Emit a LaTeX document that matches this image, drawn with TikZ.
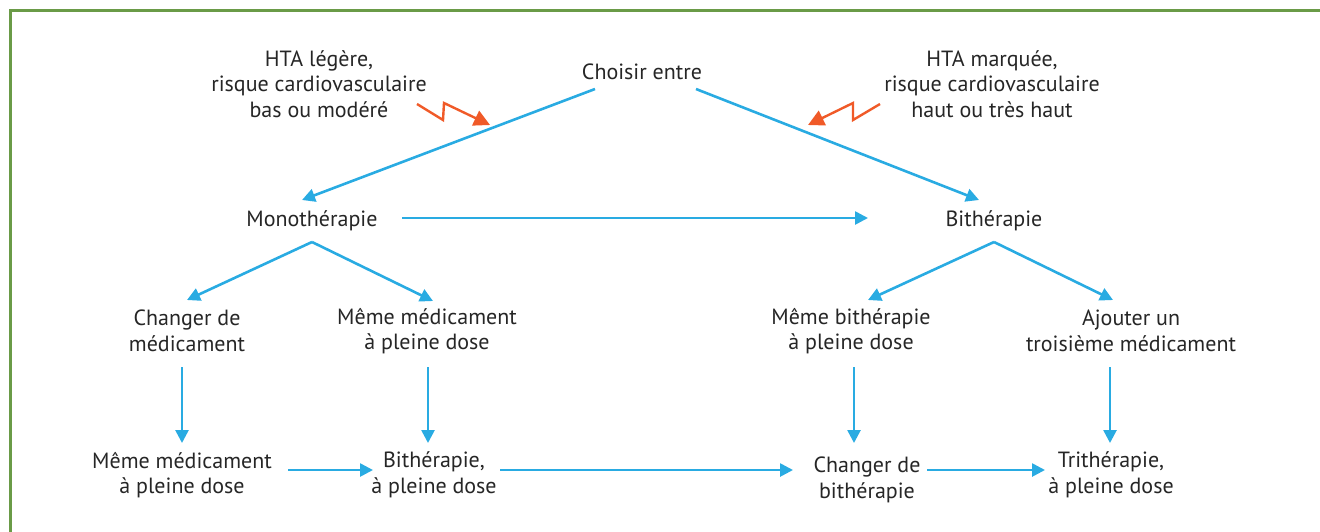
\documentclass[tikz,border=0pt]{standalone}
\usepackage{fontspec}
\setmainfont{PT Sans}
\usetikzlibrary{arrows.meta, calc}
\definecolor{framegreen}{HTML}{6A9B47}
\definecolor{flowblue}{HTML}{29ABE2}
\definecolor{flashred}{HTML}{F05A28}
\tikzset{
    every node/.style={font=\fontsize{11}{12.8}\selectfont, text=black!85, align=center, inner sep=0pt},
    flow/.style={draw=flowblue, line width=1.3pt, -{Triangle[length=6.5pt,width=6.5pt]}},
    flash/.style={draw=flashred, line width=1.2pt, line join=miter, -{Triangle[length=8pt,width=8pt]}},
}

\begin{document}
\begin{tikzpicture}[x=0.5pt, y=-0.5pt]

\useasboundingbox (0,0) rectangle (1320,531);
\draw[framegreen, line width=1.5pt] (10.5,560) -- (10.5,10.5) -- (1340,10.5);

\node (choix) at (642,72) {Choisir entre};
\node (legere) at (319,84) {HTA légère,\\risque cardiovasculaire\\bas ou modéré};
\node (marquee) at (992,84) {HTA marquée,\\risque cardiovasculaire\\haut ou très haut};
\node (mono) at (312,221) {Monothérapie};
\node (bi) at (994,221) {Bithérapie};
\node (chmed) at (187,331) {Changer de\\médicament};
\node (mememed) at (427,331) {Même médicament\\à pleine dose};
\node (memebi) at (851,331) {Même bithérapie\\à pleine dose};
\node (ajout) at (1131,331) {Ajouter un\\troisième médicament};
\node (memedose) at (182,475) {Même médicament\\à pleine dose};
\node (bidose) at (434,475) {Bithérapie,\\à pleine dose};
\node (chbi) at (867,480) {Changer de\\bithérapie};
\node (tri) at (1111,475) {Trithérapie,\\à pleine dose};

\draw[flow] ($(choix)+(-47,17)$) -- ($(mono)+(-10,-21)$);
\draw[flow] ($(choix)+(54,17)$) -- ($(bi)+(-15,-21)$);
\draw[flow] ($(mono)+(90,-3)$) -- ($(bi)+(-126,-3)$);

\draw[flow] ($(mono)+(0,21)$) -- ($(chmed)+(0,-31)$);
\draw[flow] ($(mono)+(0,21)$) -- ($(mememed)+(6,-30)$);
\draw[flow] ($(bi)+(0,21)$) -- ($(memebi)+(17,-31)$);
\draw[flow] ($(bi)+(0,21)$) -- ($(ajout)+(-18,-31)$);

\draw[flow] ($(memedose)+(0,-108)$) -- ($(memedose)+(0,-32)$);
\draw[flow] ($(mememed)+(1,36)$) -- ($(mememed)+(1,112)$);
\draw[flow] ($(memebi)+(3,36)$) -- ($(memebi)+(3,112)$);
\draw[flow] ($(tri)+(-1,-108)$) -- ($(tri)+(-1,-32)$);

\draw[flow] ($(memedose)+(106,-5)$) -- ($(bidose)+(-61,-5)$);
\draw[flow] ($(bidose)+(66,-5)$) -- ($(chbi)+(-74,-10)$);
\draw[flow] ($(chbi)+(60,-10)$) -- ($(tri)+(-66,-5)$);

\coordinate (flashL) at (417,104);
\coordinate (flashLend) at (490,125);
\coordinate (flashR) at (880,104);
\coordinate (flashRend) at (808,125);
\draw[flash] (flashL) -- ++(26,16) -- ++(1,-17) -- (flashLend);
\draw[flash] (flashR) -- ++(-27,16) -- ++(0,-17) -- (flashRend);

\end{tikzpicture}
\end{document}
